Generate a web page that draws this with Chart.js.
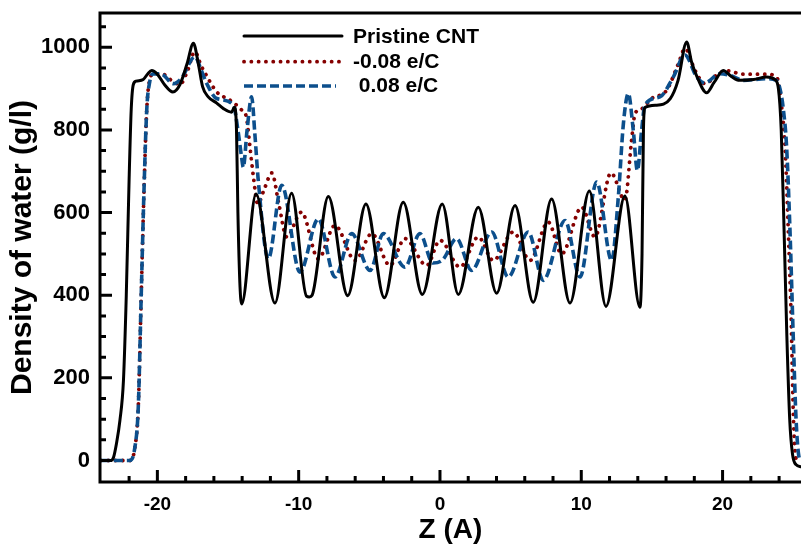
<!DOCTYPE html>
<html>
<head>
<meta charset="utf-8">
<script src="https://cdn.jsdelivr.net/npm/chart.js@4.4.0/dist/chart.umd.min.js"></script>
<style>
  body { margin: 0; background: #fff; }
  canvas { display: block; }
</style>
</head>
<body>
<canvas id="densityChart" width="801" height="545"></canvas>
<script>
// --- Datos ---
const seriesLabels = ["Pristine CNT", "-0.08 e/C", " 0.08 e/C"];

const zPristine = [-24, -23.3, -23.1, -22.9, -22.65, -22.4, -22.2, -22.0, -21.85, -21.7, -21.5, -21.0, -20.7, -20.4, -20.0,
  -19.5, -18.9, -18.4, -17.9, -17.45, -17.1, -16.8, -16.4, -15.8, -15.3, -14.75, -14.55, -14.4, -14.3, -14.15, -14.03,
  -13.02, -11.68, -10.5, -9.45, -9.25, -9.05, -7.9, -6.53, -5.24, -3.94, -2.6, -1.25, 0.16, 1.3, 2.71, 4.01,
  5.31, 6.6, 7.9, 9.2, 10.57, 11.75, 13.09, 14.15, 14.3, 14.4, 14.5, 15.3, 16.3, 16.85, 17.46, 17.8, 18.2,
  18.87, 19.4, 20.05, 20.6, 21.2, 22.2, 23.1, 23.7, 23.95, 24.15, 24.35, 24.55, 24.75, 24.95, 25.2, 25.55];
const rhoPristine = [0, 0, 8, 40, 97, 194, 400, 680, 850, 910, 918, 922, 935, 944, 935,
  910, 892, 910, 960, 1010, 960, 905, 880, 865, 851, 843, 855, 800, 600, 420, 379,
  645, 381, 647, 398, 396, 400, 639, 399, 621, 394, 625, 402, 621, 402, 613, 405,
  617, 383, 633, 381, 652, 373, 640, 371, 500, 800, 854, 860, 876, 920, 1013, 965, 928,
  890, 915, 944, 930, 920, 922, 928, 922, 900, 800, 560, 300, 100, 15, -10, -15];

const zNeg = [-24, -21.95, -21.6, -21.35, -21.15, -20.95, -20.75, -20.55, -20.3, -19.7, -19.0, -18.4, -17.9, -17.34, -16.9,
  -16.6, -15.8, -14.86, -14.0, -13.7, -13.45, -13.2, -12.9, -12.4, -11.9, -11.4, -10.85, -9.8, -8.61, -7.43,
  -6.0, -4.83, -3.54, -2.48, -0.94, 0.0, 1.42, 2.71, 3.77, 5.19, 6.37, 7.66, 8.61, 10.03, 10.97, 12.1, 13.09,
  13.56, 13.8, 14.27, 14.98, 16.04, 16.87, 17.34, 18.05, 18.75, 19.7, 20.29, 21.47, 23.12, 23.7, 23.94, 24.2,
  24.42, 24.65, 24.85, 25.0, 25.15, 25.3, 25.55];
const rhoNeg = [0, 0, 30, 130, 390, 650, 850, 920, 935, 936, 920, 910, 940, 989, 955,
  936, 892, 872, 847, 831, 760, 686, 621, 660, 696, 620, 541, 601, 488, 569,
  484, 549, 472, 537, 472, 533, 468, 541, 484, 553, 484, 577, 500, 613, 541, 696, 630,
  775, 839, 851, 876, 896, 960, 997, 944, 912, 936, 943, 935, 935, 930, 918, 850,
  759, 557, 350, 120, 15, 0, 0];

const zPos = [-24, -21.95, -21.6, -21.35, -21.15, -20.95, -20.75, -20.55, -20.3, -19.7, -18.87, -18.3, -17.34, -16.9, -16.5,
  -15.8, -14.62, -14.3, -14.04, -13.92, -13.65, -13.33, -13.1, -12.86, -12.15, -11.2, -9.91, -8.61, -7.43,
  -6.25, -4.95, -4.01, -2.48, -1.42, -0.5, 0.2, 1.18, 2.24, 3.66, 4.83, 6.25, 7.31, 8.85, 9.91, 11.09, 12.15,
  12.62, 12.98, 13.33, 13.68, 13.97, 14.27, 14.5, 15.57, 16.51, 17.34, 18.17, 18.75, 19.81, 20.52, 21.47,
  23.12, 23.8, 24.06, 24.3, 24.53, 24.77, 25.0, 25.2, 25.4, 25.55];
const rhoPos = [0, 0, 30, 130, 390, 650, 850, 915, 936, 935, 912, 925, 977, 945, 912,
  876, 860, 800, 734, 710, 800, 880, 790, 678, 488, 666, 456, 585, 444,
  549, 460, 549, 468, 549, 478, 486, 537, 460, 553, 444, 553, 436, 581, 444, 674, 484,
  637, 815, 888, 799, 702, 799, 860, 880, 928, 981, 928, 914, 936, 932, 920,
  924, 920, 900, 850, 760, 557, 300, 100, 10, 0];

const xTicks = [-20, -10, 0, 10, 20];
const yTicks = [0, 200, 400, 600, 800, 1000];

// --- Construir puntos ---
function toPoints(zs, rhos) {
  return zs.map((z, i) => ({ x: z, y: rhos[i] }));
}

const FONT = "'Liberation Sans', Arial, sans-serif";

// --- Marco, ticks hacia adentro y leyenda ---
const frameTicks = {
  id: "frameTicks",
  afterDraw(chart) {
    const { ctx, chartArea: a, scales: { x, y } } = chart;
    ctx.save();
    ctx.strokeStyle = "#000";
    ctx.lineWidth = 3;
    ctx.lineCap = "butt";
    ctx.beginPath();
    ctx.moveTo(a.left, a.top);
    ctx.lineTo(a.right + 2, a.top);
    ctx.moveTo(a.left, a.top - 1.5);
    ctx.lineTo(a.left, a.bottom + 1.5);
    ctx.moveTo(a.left, a.bottom);
    ctx.lineTo(a.right + 2, a.bottom);

    for (let v = -24; v <= 26; v += 2) {
      const px = x.getPixelForValue(v);
      if (px < a.left + 3 || px > a.right - 1) continue;
      const len = xTicks.includes(v) ? 12 : 6;
      ctx.moveTo(px, a.bottom);
      ctx.lineTo(px, a.bottom - len);
    }
    for (let v = -50; v <= 1100; v += 50) {
      const py = y.getPixelForValue(v);
      if (py > a.bottom - 3 || py < a.top + 3) continue;
      const len = yTicks.includes(v) ? 12 : 6;
      ctx.moveTo(a.left, py);
      ctx.lineTo(a.left + len, py);
    }
    ctx.stroke();

    // leyenda
    const rowsLine = [36, 61.7, 86];
    const rowsText = [37.5, 62, 86.5];
    const lineEnds = [342, 340, 336];
    ctx.font = "bold 21px " + FONT;
    ctx.textBaseline = "middle";
    ctx.textAlign = "left";
    chart.data.datasets.forEach((ds, i) => {
      ctx.beginPath();
      ctx.strokeStyle = ds.borderColor;
      ctx.lineWidth = ds.borderWidth;
      ctx.lineCap = ds.borderCapStyle || "butt";
      ctx.setLineDash(ds.borderDash || []);
      ctx.moveTo(244, rowsLine[i]);
      ctx.lineTo(lineEnds[i], rowsLine[i]);
      ctx.stroke();
      ctx.setLineDash([]);
      ctx.fillStyle = "#000";
      ctx.fillText(ds.label, 353, rowsText[i]);
    });
    ctx.restore();
  }
};

const ctx = document.getElementById("densityChart").getContext("2d");

new Chart(ctx, {
  type: "line",
  data: {
    datasets: [
      {
        label: seriesLabels[0],
        data: toPoints(zPristine, rhoPristine),
        borderColor: "#000000",
        borderWidth: 3,
        borderDash: [],
        borderCapStyle: "round",
        order: 1
      },
      {
        label: seriesLabels[1],
        data: toPoints(zNeg, rhoNeg),
        borderColor: "#850000",
        borderWidth: 3.8,
        borderDash: [0.1, 7.2],
        borderCapStyle: "round",
        order: 3
      },
      {
        label: seriesLabels[2],
        data: toPoints(zPos, rhoPos),
        borderColor: "#0c4f8c",
        borderWidth: 3.6,
        borderDash: [9, 4],
        borderCapStyle: "butt",
        order: 2
      }
    ]
  },
  options: {
    responsive: false,
    animation: false,
    layout: { padding: { top: 13, left: 0, right: 0, bottom: 0 } },
    elements: {
      point: { radius: 0 },
      line: { cubicInterpolationMode: "monotone", fill: false }
    },
    plugins: {
      legend: { display: false },
      tooltip: { enabled: false }
    },
    scales: {
      x: {
        type: "linear",
        min: -24.06,
        max: 25.55,
        afterBuildTicks: (scale) => { scale.ticks = xTicks.map(v => ({ value: v })); },
        afterFit: (scale) => { scale.height = 63; scale.paddingLeft = 0; scale.paddingRight = 0; },
        grid: { display: false, drawTicks: false },
        border: { display: false },
        ticks: {
          padding: 11,
          color: "#000",
          font: { family: FONT, size: 19, weight: "bold" },
          callback: (v) => String(v)
        },
        title: {
          display: true,
          text: "Z (A)",
          color: "#000",
          font: { family: FONT, size: 28, weight: "bold" },
          padding: { top: 0, bottom: -2 }
        }
      },
      y: {
        type: "linear",
        min: -52,
        max: 1083,
        afterBuildTicks: (scale) => { scale.ticks = yTicks.map(v => ({ value: v })); },
        afterFit: (scale) => { scale.width = 100; scale.paddingTop = 0; scale.paddingBottom = 0; },
        grid: { display: false, drawTicks: false },
        border: { display: false },
        ticks: {
          padding: 10,
          color: "#000",
          font: { family: FONT, size: 22, weight: "bold" },
          callback: (v) => String(v)
        },
        title: {
          display: true,
          text: "Density of water (g/l)",
          color: "#000",
          font: { family: FONT, size: 30, weight: "bold" },
          padding: { top: 5, bottom: 0 }
        }
      }
    }
  },
  plugins: [frameTicks]
});
</script>
</body>
</html>
